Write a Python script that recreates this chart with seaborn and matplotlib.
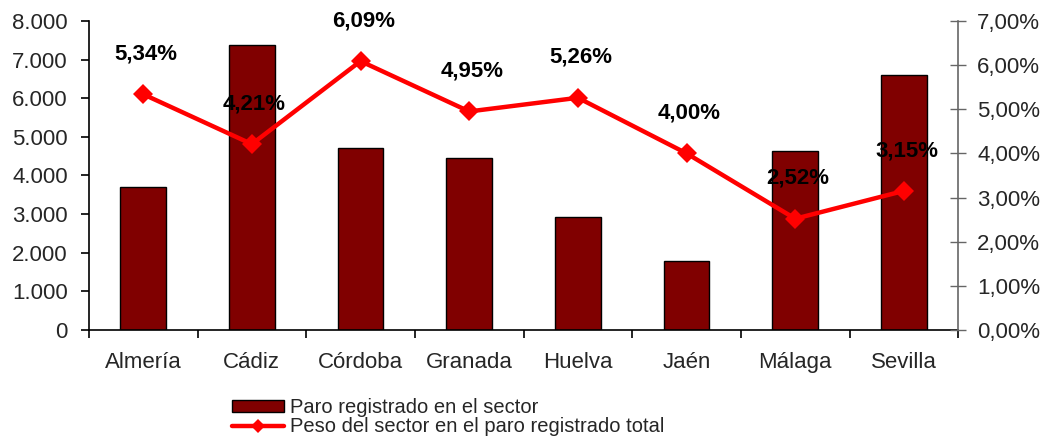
import numpy as np
import matplotlib
matplotlib.use("Agg")
import matplotlib.pyplot as plt
import seaborn as sns
from matplotlib.ticker import FuncFormatter, FixedLocator
from matplotlib.lines import Line2D
from matplotlib.patches import Patch

# data
provincias = ["Almería", "Cádiz", "Córdoba", "Granada", "Huelva", "Jaén", "Málaga", "Sevilla"]
paro = [3700, 7380, 4720, 4450, 2930, 1790, 4640, 6600]
peso = [5.34, 4.21, 6.09, 4.95, 5.26, 4.00, 2.52, 3.15]

sns.set_theme(style="white")
plt.rcParams["font.family"] = ["Liberation Sans", "DejaVu Sans"]

fig = plt.figure(figsize=(10.45, 4.37), dpi=100)
ax = fig.add_axes([0.085, 0.245, 0.832, 0.707])

x = np.arange(len(provincias))
sns.barplot(x=x, y=paro, ax=ax, color="#800000", width=0.42,
            edgecolor="black", linewidth=1, saturation=1, native_scale=True)

ax2 = ax.twinx()
sns.lineplot(x=x, y=peso, ax=ax2, color="#ff0000", linewidth=3.2,
             marker="D", markersize=10, markeredgewidth=0)

for xi, v in zip(x, peso):
    ax2.annotate(f"{v:.2f}%".replace(".", ","), (xi, v), xytext=(2, 29),
                 textcoords="offset points", ha="center", va="center",
                 fontsize=16, fontweight="bold", color="black")

ax.set_xlim(-0.5, len(provincias) - 0.5)
ax.set_ylim(0, 8000)
ax2.set_ylim(0, 7)
ax.set_yticks(np.arange(0, 8001, 1000))
ax2.set_yticks(np.arange(0, 7.01, 1))
ax.yaxis.set_major_formatter(FuncFormatter(lambda v, p: f"{int(v):,}".replace(",", ".")))
ax2.yaxis.set_major_formatter(FuncFormatter(lambda v, p: f"{v:.2f}%".replace(".", ",")))

# category boundaries as ticks, names in between
ax.xaxis.set_major_locator(FixedLocator(np.arange(-0.5, len(provincias), 1)))
ax.set_xticklabels([])
ax.xaxis.set_minor_locator(FixedLocator(x))
ax.set_xticklabels(provincias, minor=True)
ax.tick_params(axis="x", which="major", direction="out", length=6, width=1.2, color="black", bottom=True)
ax.tick_params(axis="x", which="minor", length=0, pad=16, labelsize=16)
ax.tick_params(axis="y", direction="out", length=6, width=1.2, color="black", left=True, labelsize=16, pad=9)
ax2.tick_params(axis="y", direction="inout", length=11, width=1, color="#666666", right=True, labelsize=16, pad=8)

ax.set_xlabel("")
ax.set_ylabel("")
ax2.set_ylabel("")
ax.grid(False)
ax2.grid(False)

for a in (ax, ax2):
    a.spines["top"].set_visible(False)
ax.spines["right"].set_visible(False)
ax2.spines["left"].set_visible(False)
ax2.spines["bottom"].set_visible(False)
ax.spines["left"].set_color("black")
ax.spines["left"].set_linewidth(1.2)
ax.spines["bottom"].set_color("black")
ax.spines["bottom"].set_linewidth(1.2)
ax2.spines["right"].set_color("#666666")
ax2.spines["right"].set_linewidth(1.2)

handles = [
    Patch(facecolor="#800000", edgecolor="black", linewidth=1),
    Line2D([0], [0], color="#ff0000", linewidth=3.2, marker="D", markersize=7, markeredgewidth=0),
]
fig.legend(handles, ["Paro registrado en el sector", "Peso del sector en el paro registrado total"],
           loc="upper left", bbox_to_anchor=(0.212, 0.112), frameon=False, fontsize=14.5,
           handlelength=2.6, handleheight=0.55, labelspacing=0.0, handletextpad=0.3, borderpad=0)

fig.savefig("out.png", dpi=100)
